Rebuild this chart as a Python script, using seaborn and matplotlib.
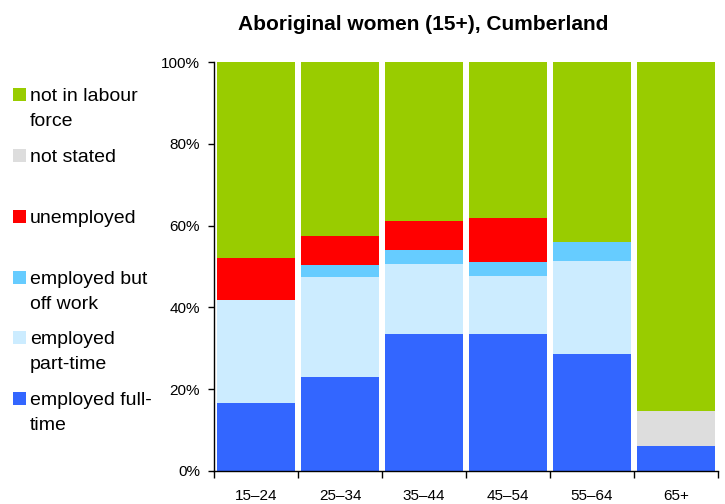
import numpy as np
import pandas as pd
import matplotlib
matplotlib.use("Agg")
import matplotlib.pyplot as plt
import seaborn as sns
from matplotlib.patches import Rectangle
from matplotlib.ticker import FixedLocator

categories = ["15–24", "25–34", "35–44", "45–54", "55–64", "65+"]
full_time = [16.7, 23.1, 33.5, 33.5, 28.6, 6.1]
part_time = [25.1, 24.3, 17.0, 14.2, 22.7, 0.0]
off_work = [0.0, 3.0, 3.5, 3.3, 4.6, 0.0]
unemployed = [10.4, 7.1, 7.2, 10.8, 0.0, 0.0]
not_stated = [0.0, 0.0, 0.0, 0.0, 0.0, 8.6]
not_in_lf = [47.8, 42.5, 38.8, 38.2, 44.1, 85.3]

series_names = ["employed full-time", "employed part-time", "employed but off work",
                "unemployed", "not stated", "not in labour force"]
legend_labels = ["employed full-\ntime", "employed\npart-time", "employed but\noff work",
                 "unemployed", "not stated", "not in labour\nforce"]
colors = ["#3366FF", "#CCECFF", "#66CCFF", "#FF0000", "#DDDDDD", "#99CC00"]

sns.set_theme(style="white")
plt.rcParams["font.family"] = ["Liberation Sans", "DejaVu Sans"]
plt.rcParams["text.color"] = "black"

fig = plt.figure(figsize=(7.25, 5.04), dpi=100)
ax = fig.add_axes([214 / 725, 33 / 504, 504 / 725, 409 / 504])

layers = [full_time, part_time, off_work, unemployed, not_stated, not_in_lf]
cum = np.cumsum(np.array(layers), axis=0)
# draw from top layer down so lower segments overlay upper ones
for i in range(len(layers) - 1, -1, -1):
    df = pd.DataFrame({"cat": categories, "val": cum[i]})
    sns.barplot(data=df, x="cat", y="val", color=colors[i], saturation=1,
                width=0.92, linewidth=0, ax=ax, order=categories)

ax.set_xlim(-0.5, 5.5)
ax.set_ylim(0, 100)
ax.set_xlabel("")
ax.set_ylabel("")
ax.set_yticks([0, 20, 40, 60, 80, 100])
ax.set_yticklabels(["0%", "20%", "40%", "60%", "80%", "100%"])
ax.xaxis.set_minor_locator(FixedLocator(np.arange(-0.5, 6, 1)))
ax.tick_params(axis="x", which="major", length=0, pad=13, labelsize=11, colors="black")
ax.tick_params(axis="x", which="minor", length=5, width=1, color="black", direction="out", bottom=True)
ax.tick_params(axis="y", which="major", length=4, width=1, color="black", direction="out",
               left=True, pad=6, labelsize=11, colors="black")
for s in ["top", "right"]:
    ax.spines[s].set_visible(False)
for s in ["left", "bottom"]:
    ax.spines[s].set_visible(True)
    ax.spines[s].set_color("black")
    ax.spines[s].set_linewidth(1)

fig.text(423 / 725, 1 - 24 / 504, "Aboriginal women (15+), Cumberland", ha="center", va="center",
         fontsize=15, fontweight="bold", color="black")

# legend (manual, top to bottom)
ys = [88, 149, 210, 271, 331, 392]
for k, y in enumerate(ys):
    idx = len(series_names) - 1 - k
    fig.patches.append(Rectangle((13 / 725, 1 - (y + 13) / 504), 13 / 725, 13 / 504,
                                 transform=fig.transFigure, facecolor=colors[idx],
                                 edgecolor="none"))
    fig.text(30 / 725, 1 - y / 504, legend_labels[idx], ha="left", va="top",
             fontsize=14, linespacing=1.65, color="black")

fig.savefig("out.png", dpi=100)
